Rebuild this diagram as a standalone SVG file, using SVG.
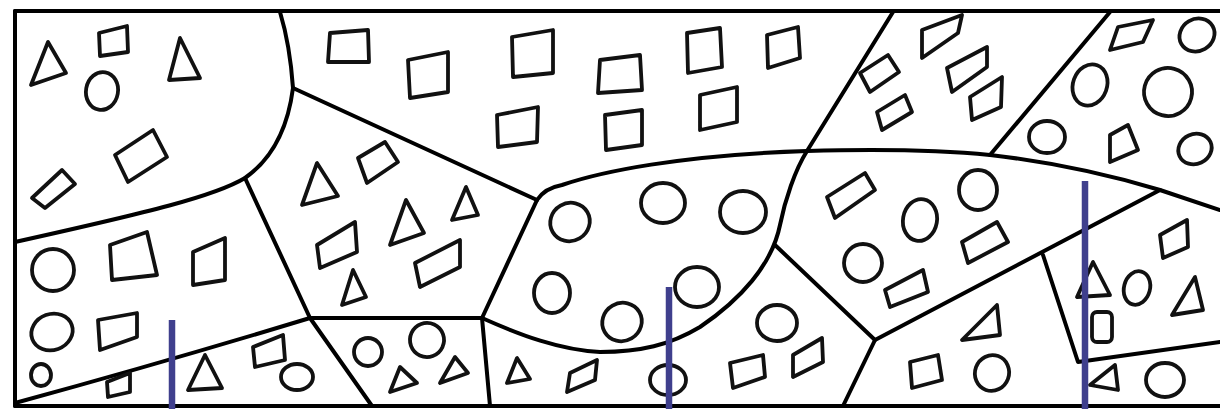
<svg xmlns="http://www.w3.org/2000/svg" width="1220" height="409" viewBox="0 0 1220 409">
<style>
.b{fill:none;stroke:#000;stroke-width:4;stroke-linecap:round;stroke-linejoin:round}
.s{fill:none;stroke:#111;stroke-width:3.8;stroke-linejoin:round;stroke-linecap:round}
.v{stroke:#3f3f8d;stroke-width:6.5}
</style>
<rect width="1220" height="409" fill="#fff"/>
<g id="border" class="b">
<path d="M15,11 L1220,11"/>
<path d="M15,11 L15,406"/>
<path d="M15,406 L1220,406"/>
</g>
<g id="boundaries" class="b">
<path d="M280,12 Q290,45 293,88 Q285,150 245,178 C215,196 150,212 15,242"/>
<path d="M293,88 L537,200"/>
<path d="M245,178 L310,318 L482,318 L537,200"/>
<path d="M537,200 Q545,188 562,185 C600,172 680,155 807,151 C880,149 940,150 990,155 C1060,163 1120,178 1160,190 L1220,210"/>
<path d="M893,12 L807,151 C795,170 785,200 780,225 C772,265 740,300 700,327 C670,345 640,352 600,352 C560,350 520,335 482,318"/>
<path d="M990,155 L1110,12"/>
<path d="M775,245 L875,340 L1160,190"/>
<path d="M875,340 L843,406"/>
<path d="M1043,255 L1078,362 L1220,342"/>
<path d="M15,403 Q165,362 310,318 L372,406"/>
<path d="M482,318 L490,406"/>
</g>
<g id="region-top-left" class="s">
<polygon points="48,42 31,85 66,73"/>
<polygon points="99,33 127,26 128,52 100,56"/>
<polygon points="180,38 169,80 200,78"/>
<ellipse cx="102" cy="91" rx="16" ry="19" transform="rotate(10 102 91)"/>
<polygon points="115,155 153,130 167,157 128,182"/>
<polygon points="32,198 62,170 75,184 45,208"/>
</g>
<g id="region-top" class="s">
<polygon points="330,33 368,30 369,62 328,62"/>
<polygon points="408,60 448,52 448,92 410,98"/>
<polygon points="512,37 553,30 553,73 513,77"/>
<polygon points="497,115 538,107 537,142 498,147"/>
<polygon points="600,60 640,55 642,90 598,93"/>
<polygon points="687,33 720,28 722,67 688,73"/>
<polygon points="767,35 798,27 800,58 768,68"/>
<polygon points="605,115 642,110 642,145 606,150"/>
<polygon points="700,95 737,87 737,122 700,130"/>
</g>
<g id="region-top-mid" class="s">
<polygon points="860,73 888,55 899,72 870,92"/>
<polygon points="877,112 905,95 912,112 882,130"/>
<polygon points="922,30 962,15 958,33 922,58"/>
<polygon points="947,68 987,47 987,67 952,92"/>
<polygon points="970,97 1002,77 1001,107 972,120"/>
</g>
<g id="region-top-right" class="s">
<polygon points="1118,27 1153,20 1143,42 1110,50"/>
<ellipse cx="1197" cy="35" rx="18" ry="16" transform="rotate(-30 1197 35)"/>
<ellipse cx="1090" cy="85" rx="17" ry="21" transform="rotate(20 1090 85)"/>
<ellipse cx="1168" cy="92" rx="24" ry="24" transform="rotate(-30 1168 92)"/>
<ellipse cx="1047" cy="137" rx="18" ry="16"/>
<polygon points="1110,135 1128,125 1138,150 1110,162"/>
<ellipse cx="1195" cy="149" rx="17" ry="15" transform="rotate(-25 1195 149)"/>
</g>
<g id="region-pentagon" class="s">
<polygon points="317,163 302,205 338,196"/>
<polygon points="358,158 385,142 398,162 367,183"/>
<polygon points="406,200 390,245 424,233"/>
<polygon points="466,187 452,220 478,215"/>
<polygon points="317,245 355,222 357,252 320,268"/>
<polygon points="353,270 342,305 366,297"/>
<polygon points="415,263 460,240 460,267 420,287"/>
</g>
<g id="region-left" class="s">
<ellipse cx="53" cy="270" rx="21" ry="21"/>
<polygon points="110,245 147,232 157,275 112,280"/>
<polygon points="193,252 225,238 225,280 193,285"/>
<ellipse cx="52" cy="332" rx="21" ry="18" transform="rotate(-20 52 332)"/>
<polygon points="98,320 137,313 137,337 100,350"/>
<ellipse cx="41" cy="375" rx="10" ry="11"/>
</g>
<g id="region-bottom-left" class="s">
<polygon points="205,355 188,390 222,388"/>
<polygon points="253,347 283,335 285,360 255,367"/>
<ellipse cx="297" cy="377" rx="16" ry="13"/>
<polygon points="107,382 130,373 130,392 108,397"/>
</g>
<g id="region-small" class="s">
<ellipse cx="368" cy="352" rx="14" ry="14"/>
<ellipse cx="427" cy="340" rx="17" ry="17" transform="rotate(-20 427 340)"/>
<polygon points="400,367 390,392 417,383"/>
<polygon points="455,357 440,383 468,373"/>
</g>
<g id="region-wave" class="s">
<ellipse cx="570" cy="222" rx="20" ry="19" transform="rotate(-30 570 222)"/>
<ellipse cx="663" cy="203" rx="22" ry="20"/>
<ellipse cx="743" cy="212" rx="23" ry="21"/>
<ellipse cx="552" cy="293" rx="18" ry="20"/>
<ellipse cx="622" cy="322" rx="20" ry="19" transform="rotate(-30 622 322)"/>
<ellipse cx="697" cy="287" rx="22" ry="20"/>
</g>
<g id="region-below-wave" class="s">
<polygon points="517,358 507,383 530,379"/>
<polygon points="570,373 597,360 595,380 567,392"/>
<ellipse cx="668" cy="380" rx="18" ry="15"/>
<polygon points="730,363 763,355 765,377 733,388"/>
<polygon points="793,355 822,338 823,362 793,377"/>
<ellipse cx="777" cy="323" rx="20" ry="18"/>
</g>
<g id="region-mid-right" class="s">
<polygon points="827,197 865,173 875,190 835,218"/>
<ellipse cx="920" cy="220" rx="17" ry="21" transform="rotate(10 920 220)"/>
<ellipse cx="978" cy="190" rx="19" ry="20"/>
<ellipse cx="863" cy="263" rx="19" ry="19"/>
<polygon points="885,290 923,270 928,292 890,307"/>
<polygon points="962,242 997,222 1008,242 968,263"/>
</g>
<g id="region-inner-right" class="s">
<polygon points="1160,235 1187,220 1188,247 1163,258"/>
<polygon points="1093,262 1077,297 1110,295"/>
<ellipse cx="1137" cy="288" rx="13" ry="17" transform="rotate(15 1137 288)"/>
<polygon points="1195,277 1172,315 1203,310"/>
<rect x="1092" y="312" width="20" height="30" rx="5"/>
</g>
<g id="region-bottom-right" class="s">
<polygon points="997,305 962,340 1000,335"/>
<polygon points="910,362 938,355 942,380 912,388"/>
<ellipse cx="992" cy="373" rx="17" ry="18" transform="rotate(20 992 373)"/>
<polygon points="1115,365 1090,385 1118,390"/>
<ellipse cx="1165" cy="380" rx="19" ry="17"/>
</g>
<g id="markers">
<line class="v" x1="172" y1="320" x2="172" y2="409"/>
<line class="v" x1="669" y1="287" x2="669" y2="409"/>
<line class="v" x1="1085" y1="181" x2="1085" y2="409"/>
</g>
</svg>
